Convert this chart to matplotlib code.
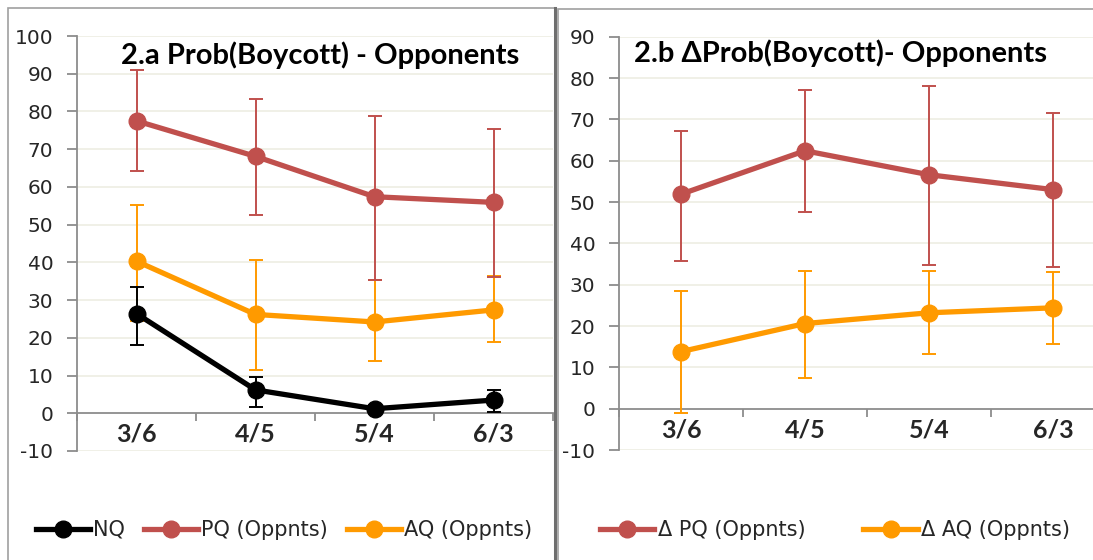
import matplotlib.pyplot as plt
import numpy as np
from matplotlib.patches import Rectangle
from matplotlib.lines import Line2D

plt.rcParams['axes.unicode_minus'] = False

cats = ['3/6', '4/5', '5/4', '6/3']

# panel 2.a
nq = [26.4, 6.2, 1.2, 3.5]
nq_lo = [18.2, 1.7, 0.2, 0.4]
nq_hi = [33.6, 9.6, 2.2, 6.3]
pq = [77.5, 68.1, 57.4, 55.9]
pq_lo = [64.2, 52.6, 35.4, 36.2]
pq_hi = [91.1, 83.2, 78.9, 75.3]
aq = [40.3, 26.2, 24.2, 27.4]
aq_lo = [24.5, 11.6, 13.9, 18.9]
aq_hi = [55.2, 40.5, 35.3, 36.3]

# panel 2.b
dpq = [51.9, 62.4, 56.6, 53.0]
dpq_lo = [35.7, 47.5, 34.8, 34.3]
dpq_hi = [67.2, 77.0, 78.0, 71.6]
daq = [13.8, 20.6, 23.2, 24.4]
daq_lo = [-1.0, 7.4, 13.3, 15.6]
daq_hi = [28.5, 33.2, 33.3, 33.0]

RED = '#C0504D'
ORANGE = '#FF9A00'
BLACK = '#000000'
GRID = '#EDEDE3'
AXC = '#8C8C8C'
TXT = '#262626'

W, H = 1093, 560
fig = plt.figure(figsize=(W / 100, H / 100), dpi=100)
fig.patch.set_facecolor('white')

# panel frames
fig.add_artist(Rectangle((8 / W, -0.1), (547 / W), (H - 8) / H + 0.1, transform=fig.transFigure,
                         fill=False, edgecolor='#A0A0A0', lw=1.2))
fig.add_artist(Rectangle((558 / W, -0.1), 600 / W, (H - 9) / H + 0.1, transform=fig.transFigure,
                         fill=False, edgecolor='#A0A0A0', lw=1.2))
fig.add_artist(Line2D([555 / W, 555 / W], [0, (H - 8) / H], transform=fig.transFigure,
                      color='#6E6E6E', lw=2.2))


def px_axes(x0, x1, ytop, ybot):
    return fig.add_axes([x0 / W, (H - ybot) / H, (x1 - x0) / W, (ybot - ytop) / H])


def style(ax, ymax, xmax):
    x = np.arange(len(cats))
    ax.set_xlim(-0.5, xmax)
    ax.set_ylim(-10, ymax)
    ax.set_yticks(np.arange(-10, ymax + 1, 10))
    for v in np.arange(-10, ymax + 1, 10):
        if v != 0:
            ax.axhline(v, color=GRID, lw=1.2, zorder=0)
    for s in ['top', 'right']:
        ax.spines[s].set_visible(False)
    ax.spines['bottom'].set_position(('data', 0))
    ax.spines['bottom'].set_color(AXC)
    ax.spines['left'].set_color(AXC)
    ax.spines['bottom'].set_linewidth(1.3)
    ax.spines['left'].set_linewidth(1.3)
    ax.set_xticks(x)
    ax.set_xticklabels(cats, fontfamily='Lato', fontweight='bold', fontsize=18, color=TXT)
    ax.set_xticks(np.arange(-0.5, xmax + 0.01, 1), minor=True)
    ax.tick_params(axis='x', which='major', length=0, pad=7)
    ax.tick_params(axis='x', which='minor', length=6, width=1.3, color=AXC, direction='out')
    ax.tick_params(axis='y', length=7, width=1.3, color=AXC, direction='out', pad=10,
                   labelsize=14.5, labelcolor=TXT)
    ax.patch.set_alpha(0)


def series(ax, y, lo, hi, color, z):
    x = np.arange(len(cats))
    y = np.array(y)
    err = [y - np.array(lo), np.array(hi) - y]
    ax.errorbar(x, y, yerr=err, fmt='none', ecolor=color, elinewidth=1.4, capsize=5,
                capthick=1.4, zorder=z)
    ax.plot(x, y, color=color, lw=3.8, marker='o', markersize=12, zorder=z + 0.5,
            solid_capstyle='round')


# left panel
ax1 = px_axes(77, 553, 36, 451)
style(ax1, 100, 3.5)
series(ax1, aq, aq_lo, aq_hi, ORANGE, 3)
series(ax1, pq, pq_lo, pq_hi, RED, 4)
series(ax1, nq, nq_lo, nq_hi, BLACK, 5)
fig.text(320 / W, (H - 55) / H, '2.a Prob(Boycott) - Opponents', ha='center', va='center',
         fontfamily='Lato', fontweight='bold', fontsize=21, color='black')

# right panel
ax2 = px_axes(619, 1093, 36.7, 450)
style(ax2, 90, -0.5 + 474 / 124)
series(ax2, dpq, dpq_lo, dpq_hi, RED, 3)
series(ax2, daq, daq_lo, daq_hi, ORANGE, 4)
fig.text(634 / W, (H - 53) / H, '2.b \u0394Prob(Boycott)- Opponents', ha='left', va='center',
         fontfamily='Lato', fontweight='bold', fontsize=21, color='black')


def handle(color):
    return Line2D([], [], color=color, lw=3.8, marker='o', markersize=12)


leg_kw = dict(loc='center', ncol=3, frameon=False, handlelength=2.6, handletextpad=0.15,
              columnspacing=0.9, prop={'family': 'DejaVu Sans', 'size': 15}, labelcolor=TXT)
fig.legend([handle(BLACK), handle(RED), handle(ORANGE)], ['NQ', 'PQ (Oppnts)', 'AQ (Oppnts)'],
           bbox_to_anchor=(284 / W, (H - 530) / H), **leg_kw)
leg_kw['columnspacing'] = 2.8
fig.legend([handle(RED), handle(ORANGE)], ['\u0394 PQ (Oppnts)', '\u0394 AQ (Oppnts)'],
           bbox_to_anchor=(835 / W, (H - 530) / H), **leg_kw)

fig.savefig('out.png', dpi=100)
